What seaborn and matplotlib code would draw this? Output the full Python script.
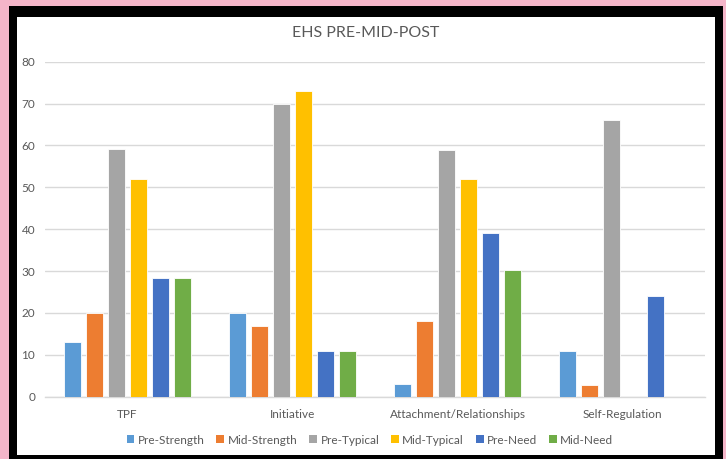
import matplotlib
matplotlib.use("Agg")
import matplotlib.pyplot as plt
from matplotlib.patches import Rectangle, Patch
import numpy as np
import pandas as pd
import seaborn as sns

# Data
categories = ["TPF", "Initiative", "Attachment/Relationships", "Self-Regulation"]
series = ["Pre-Strength", "Mid-Strength", "Pre-Typical", "Mid-Typical", "Pre-Need", "Mid-Need"]
pre_strength = [13, 20, 3, 11]
mid_strength = [20, 17, 18, 2.8]
pre_typical = [59.2, 70, 59, 66]
mid_typical = [52, 73, 52, None]
pre_need = [28.3, 11, 39, 24]
mid_need = [28.3, 11, 30.2, None]
colors = ["#5B9BD5", "#ED7D31", "#A5A5A5", "#FFC000", "#4472C4", "#70AD47"]

values = [pre_strength, mid_strength, pre_typical, mid_typical, pre_need, mid_need]
rows = []
for name, vals in zip(series, values):
    for cat, v in zip(categories, vals):
        if v is not None:
            rows.append({"category": cat, "series": name, "value": v})
df = pd.DataFrame(rows)

sns.set_theme(style="white")
plt.rcParams["font.family"] = ["Lato", "DejaVu Sans"]

W, H = 726, 459
fig = plt.figure(figsize=(W / 100, H / 100), dpi=100)
fig.patch.set_facecolor("#F4B5C9")

# black frame and white card behind the chart
fig.patches.append(Rectangle((9 / W, 0), (723 - 9) / W, (H - 6) / H,
                             transform=fig.transFigure, facecolor="black",
                             edgecolor="none", zorder=-10))
fig.patches.append(Rectangle((17 / W, (H - 455) / H), (715 - 17) / W, (455 - 17) / H,
                             transform=fig.transFigure, facecolor="white",
                             edgecolor="none", zorder=-9))

ax = fig.add_axes([45 / W, (H - 396.7) / H, (705 - 45) / W, (396.7 - 61.7) / H])
ax.set_facecolor("none")

sns.barplot(data=df, x="category", y="value", hue="series", order=categories,
            hue_order=series, palette=colors, width=0.8, gap=0.2,
            saturation=1, edgecolor="white", linewidth=0.6, ax=ax, legend=False,
            errorbar=None, zorder=3)

ax.set_ylim(0, 80)
ax.set_xlim(-0.5, 3.5)
ax.set_yticks(np.arange(0, 81, 10))
ax.yaxis.grid(True, color="#D9D9D9", linewidth=1.0, zorder=0)
ax.set_axisbelow(True)
for s in ["top", "right", "left"]:
    ax.spines[s].set_visible(False)
ax.spines["bottom"].set_color("#D9D9D9")
ax.spines["bottom"].set_linewidth(1.0)
ax.set_xlabel("")
ax.set_ylabel("")
ax.tick_params(axis="both", length=0, colors="#595959", labelsize=8.5)
ax.tick_params(axis="x", pad=9)
ax.tick_params(axis="y", pad=7)

fig.text(366 / W, 1 - 33 / H, "EHS PRE-MID-POST", ha="center", va="center",
         fontsize=11.5, color="#595959")

handles = [Patch(facecolor=c, edgecolor="none") for c in colors]
fig.legend(handles, series, loc="center", bbox_to_anchor=(370 / W, 1 - 440 / H),
           ncol=6, frameon=False, fontsize=8.5, handlelength=0.65,
           handleheight=0.65, handletextpad=0.3, columnspacing=1.0,
           labelcolor="#595959")

fig.savefig("out.png", dpi=100, facecolor=fig.get_facecolor())
